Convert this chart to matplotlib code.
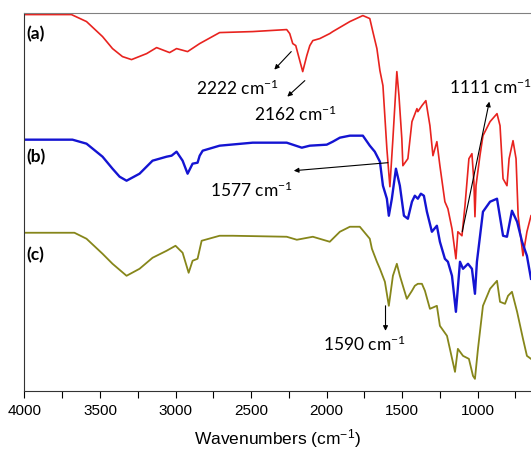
import matplotlib.pyplot as plt

plt.rcParams['mathtext.default'] = 'regular'

# FTIR spectra (wavenumber in cm-1, transmittance in arbitrary units)
wn_a = [4000, 3689, 3589, 3483, 3417, 3351, 3291, 3191, 3125, 3039, 2993, 2920, 2840,
        2708, 2489, 2264, 2244, 2224, 2204, 2190, 2158, 2131, 2111, 2091, 2045, 1979,
        1959, 1846, 1760, 1714, 1694, 1667, 1647, 1627, 1601, 1581, 1561, 1535, 1521,
        1502, 1495, 1462, 1435, 1402, 1396, 1369, 1343, 1316, 1296, 1270, 1250, 1217,
        1197, 1170, 1144, 1131, 1104, 1084, 1058, 1038, 1025, 1018, 1011, 985, 965,
        918, 872, 852, 832, 806, 792, 766, 746, 732, 700, 674, 647]
t_a = [376, 376, 369, 354, 342, 334, 331, 337, 343, 338, 342, 339, 347,
       358, 359, 361, 357, 347, 345, 337, 319, 335, 345, 350, 352, 357,
       359, 369, 375, 372, 359, 342, 320, 305, 242, 204, 252, 319, 295,
       252, 225, 232, 269, 282, 279, 285, 290, 265, 235, 249, 225, 189,
       182, 162, 132, 159, 155, 185, 232, 237, 209, 174, 205, 235, 255,
       269, 277, 265, 212, 205, 232, 250, 232, 175, 135, 159, 175]

wn_b = [4000, 3682, 3589, 3483, 3417, 3370, 3324, 3238, 3152, 3059, 3026, 2993, 2953,
        2920, 2887, 2854, 2840, 2820, 2708, 2489, 2264, 2164, 2111, 1999, 1959, 1912,
        1846, 1760, 1714, 1681, 1647, 1627, 1601, 1588, 1568, 1541, 1515, 1488, 1462,
        1435, 1416, 1396, 1376, 1356, 1336, 1303, 1270, 1250, 1217, 1197, 1170, 1144,
        1117, 1097, 1064, 1038, 1018, 1005, 965, 918, 872, 832, 806, 773, 739, 706,
        674, 647]
t_b = [251, 251, 247, 234, 222, 214, 210, 217, 230, 234, 235, 239, 230,
       217, 227, 228, 235, 240, 245, 248, 248, 243, 245, 246, 249, 253,
       255, 255, 245, 239, 229, 205, 192, 175, 192, 222, 205, 175, 172,
       189, 195, 192, 197, 195, 179, 159, 165, 149, 132, 129, 115, 79,
       129, 122, 127, 122, 97, 129, 179, 189, 192, 155, 154, 180, 169, 149,
       135, 112]

wn_c = [4000, 3669, 3589, 3483, 3417, 3324, 3238, 3152, 3059, 3000, 2953, 2913, 2887,
        2854, 2827, 2708, 2622, 2264, 2197, 2091, 1979, 1912, 1846, 1780, 1714, 1700,
        1667, 1647, 1614, 1588, 1561, 1535, 1515, 1469, 1435, 1416, 1396, 1369, 1349,
        1316, 1270, 1250, 1203, 1150, 1131, 1097, 1058, 1031, 1018, 998, 965, 918,
        872, 852, 819, 799, 773, 739, 700, 674, 647]
t_c = [158, 158, 152, 137, 127, 115, 122, 133, 140, 145, 138, 118, 130,
       132, 150, 155, 155, 154, 151, 154, 149, 159, 164, 164, 152, 142,
       129, 122, 109, 85, 115, 127, 115, 92, 100, 105, 107, 107, 100,
       82, 85, 65, 55, 19, 42, 35, 32, 15, 12, 42, 85, 102,
       110, 89, 87, 95, 99, 79, 52, 35, 32]

labels = ['(a)', '(b)', '(c)']
label_t = [357, 235, 137]

# peak annotations: text, text position, arrow tail, arrow head
peaks = [
    ('2222 cm$^{-1}$', (2588, 303), (2234, 339), (2346, 321)),
    ('2162 cm$^{-1}$', (2204, 277), (2144, 310), (2260, 294)),
    ('1577 cm$^{-1}$', (2496, 201), (1594, 228), (2217, 220)),
    ('1111 cm$^{-1}$', (918, 304), (1102, 159), (923, 289)),
    ('1590 cm$^{-1}$', (1751, 48), (1610, 85), (1610, 60)),
]

fig = plt.figure(figsize=(5.31, 4.52), dpi=100)
ax = fig.add_axes([0.046, 0.133, 0.954, 0.837])

ax.plot(wn_a, t_a, color='#e8231f', lw=1.2)
ax.plot(wn_b, t_b, color='#1414d2', lw=1.7)
ax.plot(wn_c, t_c, color='#86861a', lw=1.3)

for lab, t in zip(labels, label_t):
    ax.text(3985, t, lab, fontsize=12.5, fontweight='bold', family='Lato',
            ha='left', va='center')

for txt, pos, tail, head in peaks:
    ax.annotate('', xy=head, xytext=tail,
                arrowprops=dict(arrowstyle='-|>', color='black', lw=0.8,
                                mutation_scale=7, shrinkA=0, shrinkB=0))
    ax.text(pos[0], pos[1], txt, fontsize=12.5, family='Lato',
            ha='center', va='center')

ax.set_xlim(4000, 647)
ax.set_ylim(0, 378)
ax.set_xticks([4000, 3500, 3000, 2500, 2000, 1500, 1000])
ax.set_xticks([3750, 3250, 2750, 2250, 1750, 1250, 750], minor=True)
ax.tick_params(axis='x', which='both', direction='out', length=5, width=0.8,
               labelsize=11, pad=4)
ax.set_yticks([])
for lbl in ax.get_xticklabels():
    lbl.set_family('Liberation Sans')
ax.set_xlabel('Wavenumbers (cm$^{-1}$)', fontsize=12.5, family='Liberation Sans',
              labelpad=6)

ax.spines['right'].set_visible(False)
ax.spines['top'].set_color('#808080')
ax.spines['left'].set_color('#333333')
ax.spines['bottom'].set_color('#333333')

fig.savefig('out.png', dpi=100)
